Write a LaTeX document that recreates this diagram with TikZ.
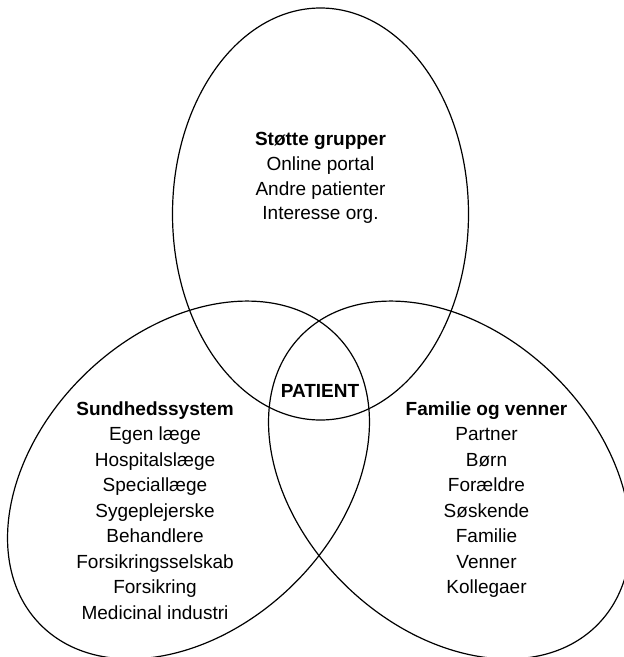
\documentclass[tikz,border=0pt]{standalone}
\usepackage{fontspec}
\setmainfont{Liberation Sans}
\begin{document}
\begin{tikzpicture}[x=1pt,y=-1pt,
  venn/.style={draw=black, line width=1.2pt},
  txt/.style={anchor=base, inner sep=0pt, font=\fontsize{19}{23}\selectfont},
  hd/.style={anchor=base, inner sep=0pt, font=\fontsize{19}{23}\selectfont\bfseries}]
\useasboundingbox (0,0) rectangle (624,657);
\begin{scope}
  \clip (0,0) rectangle (624,657);
  \draw[venn] (320.5,214) ellipse [x radius=148, y radius=206];
  \draw[venn, rotate around={44:(188.5,480)}] (188.5,480) ellipse [x radius=207, y radius=148];
  \draw[venn, rotate around={-44:(449.5,480)}] (449.5,480) ellipse [x radius=207, y radius=148];
\end{scope}
% top block
\node[hd]  (t0) at (320.5,145.5) {Støtte grupper};
\node[txt] (t1) at (320.5,170.5) {Online portal};
\node[txt] (t2) at (320.5,195)   {Andre patienter};
\node[txt] (t3) at (320.5,219.5) {Interesse org.};
% centre
\node[hd] (p) at (320,397) {PATIENT};
% left block
\node[hd]  (l0) at (155,415)   {Sundhedssystem};
\node[txt] (l1) at (155,440.5) {Egen læge};
\node[txt] (l2) at (155,466)   {Hospitalslæge};
\node[txt] (l3) at (155,491.5) {Speciallæge};
\node[txt] (l4) at (155,517)   {Sygeplejerske};
\node[txt] (l5) at (155,542.5) {Behandlere};
\node[txt] (l6) at (155,568)   {Forsikringsselskab};
\node[txt] (l7) at (155,593.5) {Forsikring};
\node[txt] (l8) at (155,619)   {Medicinal industri};
% right block
\node[hd]  (r0) at (486.5,415)   {Familie og venner};
\node[txt] (r1) at (486.5,440.5) {Partner};
\node[txt] (r2) at (486.5,466)   {Børn};
\node[txt] (r3) at (486.5,491.5) {Forældre};
\node[txt] (r4) at (486.5,517)   {Søskende};
\node[txt] (r5) at (486.5,542.5) {Familie};
\node[txt] (r6) at (486.5,568)   {Venner};
\node[txt] (r7) at (486.5,593.5) {Kollegaer};
\end{tikzpicture}
\end{document}
